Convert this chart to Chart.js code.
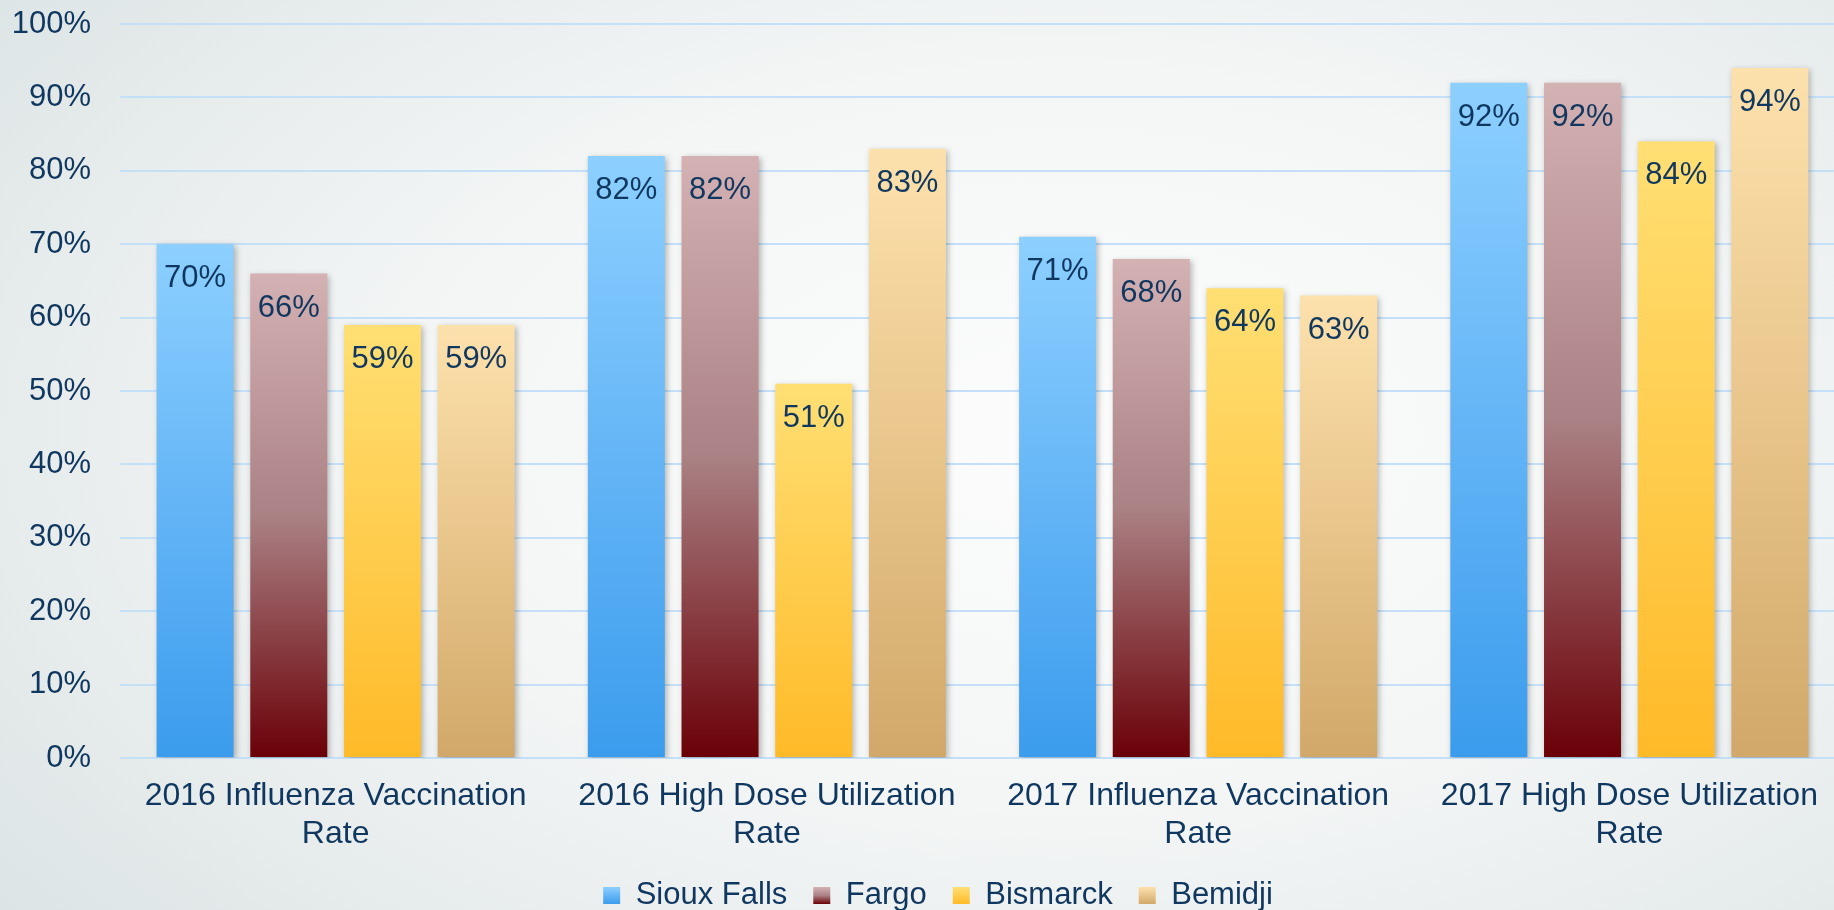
<!DOCTYPE html>
<html lang="en">
<head>
    <meta charset="UTF-8">
    <title>Vaccination Rates</title>
    <script src="https://cdn.jsdelivr.net/npm/chart.js"></script>
    <style>
        html, body {
            margin: 0;
            padding: 0;
            width: 1834px;
            height: 910px;
            overflow: hidden;
        }
        body {
            background: radial-gradient(ellipse 78% 90% at 58% 48%, #fcfcfc 0%, #f4f6f6 45%, #e6ebeb 75%, #d9e2e3 100%);
        }
        canvas { display: block; }
    </style>
</head>
<body>
    <canvas id="rateChart" width="1845" height="910"></canvas>

    <script>
        // Chart data
        const categories = [
            ['2016 Influenza Vaccination', 'Rate'],
            ['2016 High Dose Utilization', 'Rate'],
            ['2017 Influenza Vaccination', 'Rate'],
            ['2017 High Dose Utilization', 'Rate']
        ];
        const seriesNames = ['Sioux Falls', 'Fargo', 'Bismarck', 'Bemidji'];
        const siouxFalls = [70, 82, 71, 92];
        const fargo = [66, 82, 68, 92];
        const bismarck = [59, 51, 64, 84];
        const bemidji = [59, 83, 63, 94];
        const yTicks = [0, 10, 20, 30, 40, 50, 60, 70, 80, 90, 100];

        // top, middle and bottom colour of each bar gradient
        const gradientColors = [
            ['#8dd0ff', '#64b5f6', '#3b9ced'],
            ['#d4b1b3', '#aa8184', '#6a0007'],
            ['#ffdf74', '#ffcd4e', '#ffba28'],
            ['#fde1ac', '#e8c58b', '#d1a869']
        ];

        const navy = '#10375f';
        const fontFamily = "'Liberation Sans', Arial, sans-serif";

        function makeGradient(ctx, top, bottom, colors) {
            const g = ctx.createLinearGradient(0, top, 0, bottom);
            g.addColorStop(0, colors[0]);
            g.addColorStop(0.5, colors[1]);
            g.addColorStop(1, colors[2]);
            return g;
        }

        function barGradient(context, colors) {
            const chart = context.chart;
            if (!chart.chartArea || context.type !== 'data') return colors[0];
            const yScale = chart.scales.y;
            return makeGradient(chart.ctx, yScale.getPixelForValue(context.raw), yScale.getPixelForValue(0), colors);
        }

        const allValues = [siouxFalls, fargo, bismarck, bemidji];
        const datasets = allValues.map((values, i) => ({
            label: seriesNames[i],
            data: values,
            backgroundColor: ctx => barGradient(ctx, gradientColors[i]),
            borderWidth: 0,
            categoryPercentage: 0.869,
            barPercentage: 0.822
        }));

        // soft shadow behind bars
        const barShadow = {
            id: 'barShadow',
            beforeDatasetsDraw(chart) {
                const ctx = chart.ctx;
                ctx.save();
                ctx.shadowColor = 'rgba(0, 0, 0, 0.28)';
                ctx.shadowBlur = 6;
                ctx.shadowOffsetX = 2;
                ctx.shadowOffsetY = 2;
            },
            afterDatasetsDraw(chart) {
                chart.ctx.restore();
            }
        };

        // value labels inside the top of each bar
        const valueLabels = {
            id: 'valueLabels',
            afterDatasetsDraw(chart) {
                const ctx = chart.ctx;
                ctx.save();
                ctx.shadowColor = 'transparent';
                ctx.font = '31px ' + fontFamily;
                ctx.fillStyle = navy;
                ctx.textAlign = 'center';
                ctx.textBaseline = 'alphabetic';
                chart.data.datasets.forEach((ds, i) => {
                    chart.getDatasetMeta(i).data.forEach((bar, j) => {
                        ctx.fillText(ds.data[j] + '%', bar.x, bar.y + 43);
                    });
                });
                ctx.restore();
            }
        };

        // gradient squares in the legend, legend nudged right like the original
        const legendTweaks = {
            id: 'legendTweaks',
            afterLayout(chart) {
                if (chart.legend) chart.legend.left += 18;
            },
            beforeDraw(chart) {
                const legend = chart.legend;
                if (!legend || !legend.legendHitBoxes) return;
                legend.legendItems.forEach((item, i) => {
                    const hb = legend.legendHitBoxes[i];
                    const top = hb.top + Math.max((hb.height - 17) / 2, 0);
                    item.fillStyle = makeGradient(chart.ctx, top, top + 17, gradientColors[i]);
                    item.lineWidth = 0;
                });
            }
        };

        new Chart(document.getElementById('rateChart'), {
            type: 'bar',
            data: {
                labels: categories,
                datasets: datasets
            },
            options: {
                responsive: false,
                animation: false,
                layout: {
                    padding: { left: 13, right: 0, top: 24, bottom: 0 }
                },
                plugins: {
                    tooltip: { enabled: false },
                    legend: {
                        position: 'bottom',
                        maxHeight: 56,
                        labels: {
                            boxWidth: 17,
                            boxHeight: 17,
                            padding: 26,
                            color: navy,
                            font: { size: 31, family: fontFamily }
                        }
                    }
                },
                scales: {
                    x: {
                        grid: { display: false, drawTicks: false },
                        border: { display: false },
                        afterFit: scale => {
                            scale.height = 96;
                        },
                        ticks: {
                            color: navy,
                            padding: 19,
                            maxRotation: 0,
                            autoSkip: false,
                            font: { size: 32, family: fontFamily }
                        }
                    },
                    y: {
                        min: 0,
                        max: 100,
                        afterBuildTicks: scale => {
                            scale.ticks = yTicks.map(v => ({ value: v }));
                        },
                        afterFit: scale => {
                            scale.width = 107;
                            scale.paddingTop = 0;
                            scale.paddingBottom = 0;
                        },
                        grid: {
                            color: '#c4dff8',
                            lineWidth: 2,
                            drawTicks: false
                        },
                        border: { display: false },
                        ticks: {
                            color: navy,
                            padding: 29,
                            font: { size: 31, family: fontFamily },
                            callback: v => v + '%'
                        }
                    }
                }
            },
            plugins: [barShadow, valueLabels, legendTweaks]
        });
    </script>
</body>
</html>
